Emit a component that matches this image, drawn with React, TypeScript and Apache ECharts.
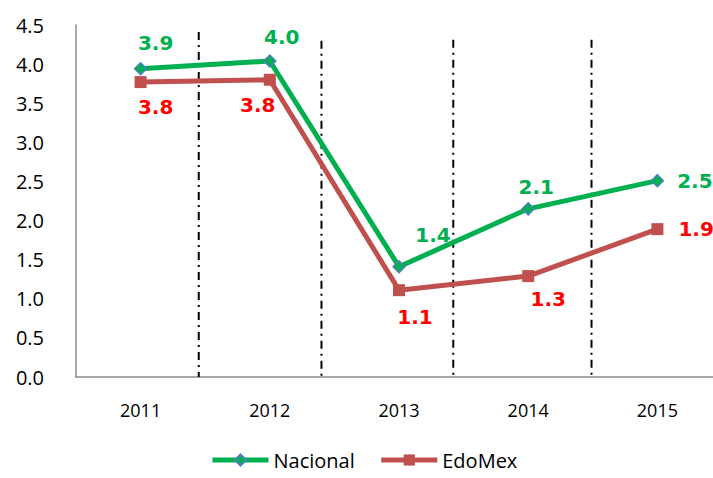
import React, { useEffect, useRef } from "react";
import * as echarts from "echarts";

const years = ["2011", "2012", "2013", "2014", "2015"];
const nacional = [3.94, 4.04, 1.41, 2.15, 2.51];
const edomex = [3.77, 3.8, 1.11, 1.29, 1.89];
const nacionalLabels = ["3.9", "4.0", "1.4", "2.1", "2.5"];
const edomexLabels = ["3.8", "3.8", "1.1", "1.3", "1.9"];
// separator lines: position in category units and top value
const sepX = [0.45, 1.4, 2.42, 3.49];
const sepTop = [4.41, 4.3, 4.31, 4.31];

const natPos: any[] = [
  { position: "top", offset: [15, -4] },
  { position: "top", offset: [12, -2] },
  { position: "top", offset: [34, -10] },
  { position: "top", offset: [8, 0] },
  { position: "right", offset: [8, 0] },
];
const edoPos: any[] = [
  { position: "bottom", offset: [15, 4] },
  { position: "bottom", offset: [-12, 4] },
  { position: "bottom", offset: [16, 6] },
  { position: "bottom", offset: [20, 2] },
  { position: "right", offset: [10, 0] },
];

export default function App() {
  const ref = useRef<HTMLDivElement>(null);
  useEffect(() => {
    const chart = echarts.init(ref.current!, null, { renderer: "svg" });
    const labelFont = {
      fontFamily: "'DejaVu Sans', sans-serif",
      fontWeight: "bold",
      fontSize: 20,
    };
    chart.setOption({
      animation: false,
      backgroundColor: "#ffffff",
      grid: { left: 76, right: 0, top: 25, bottom: 101, containLabel: false },
      legend: {
        bottom: 3,
        left: 205,
        itemWidth: 56,
        itemHeight: 14,
        itemGap: 24,
        lineStyle: { width: 5 },
        textStyle: { fontFamily: "'Open Sans', sans-serif", fontSize: 20, color: "#000" },
        data: ["Nacional", "EdoMex"],
      },
      xAxis: [
        {
          type: "category",
          data: years,
          boundaryGap: true,
          axisLine: { lineStyle: { color: "#8c8c8c", width: 1.5 } },
          axisTick: { show: false },
          axisLabel: {
            color: "#000",
            fontSize: 18,
            fontFamily: "'Open Sans', sans-serif",
            margin: 24,
          },
          splitLine: { show: false },
        },
        {
          type: "value",
          min: -0.5,
          max: 4.5,
          show: false,
        },
      ],
      yAxis: {
        type: "value",
        min: 0,
        max: 4.5,
        interval: 0.5,
        axisLine: { show: true, onZero: false, lineStyle: { color: "#8c8c8c", width: 1.5 } },
        axisTick: { show: false },
        splitLine: { show: false },
        axisLabel: {
          color: "#000",
          fontSize: 20,
          fontFamily: "'Open Sans', sans-serif",
          margin: 32,
          formatter: (v: number) => v.toFixed(1),
        },
      },
      series: [
        {
          type: "custom",
          xAxisIndex: 1,
          silent: true,
          z: 1,
          data: sepX.map((x, i) => [x, sepTop[i]]),
          renderItem: (params: any, api: any) => {
            const top = api.coord([api.value(0), api.value(1)]);
            const bot = api.coord([api.value(0), 0]);
            return {
              type: "line",
              shape: { x1: top[0], y1: top[1], x2: bot[0], y2: bot[1] },
              style: { stroke: "#000", lineWidth: 2, lineDash: [8, 5, 2, 5] },
            };
          },
        },
        {
          name: "Nacional",
          type: "line",
          z: 3,
          data: nacional.map((v, i) => ({
            value: v,
            label: { ...natPos[i], formatter: nacionalLabels[i] },
          })),
          symbol: "diamond",
          symbolSize: 12,
          lineStyle: { color: "#00B050", width: 5 },
          itemStyle: { color: "#00B050", borderColor: "#4F81BD", borderWidth: 1.5 },
          label: { show: true, color: "#00B050", ...labelFont },
        },
        {
          name: "EdoMex",
          type: "line",
          z: 2,
          data: edomex.map((v, i) => ({
            value: v,
            label: { ...edoPos[i], formatter: edomexLabels[i] },
          })),
          symbol: "rect",
          symbolSize: 12,
          lineStyle: { color: "#C0504D", width: 5 },
          itemStyle: { color: "#C0504D" },
          label: { show: true, color: "#FF0000", ...labelFont },
        },
      ],
    });
    return () => chart.dispose();
  }, []);
  return (
    <div
      style={{
        position: "absolute",
        left: 0,
        top: 0,
        width: 713,
        height: 478,
        overflow: "hidden",
      }}
    >
      <div ref={ref} style={{ width: 722, height: 478 }} />
    </div>
  );
}
